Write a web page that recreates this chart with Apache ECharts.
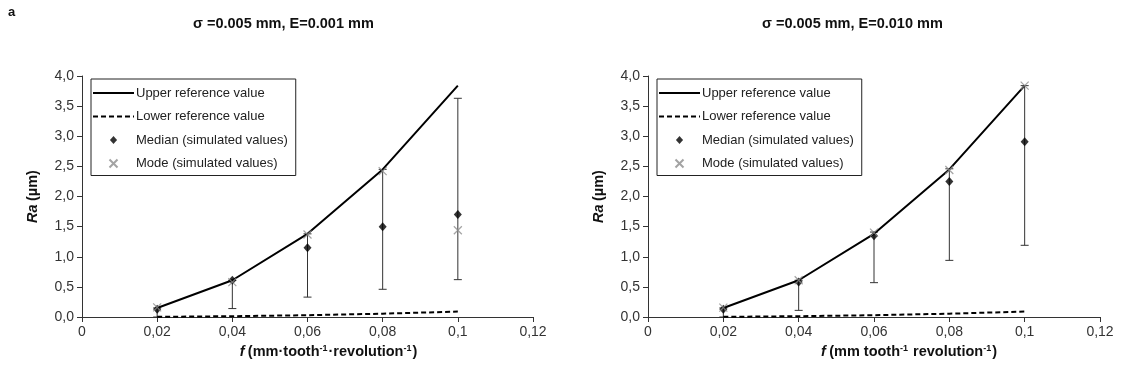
<!DOCTYPE html>
<html><head><meta charset="utf-8">
<script src="https://cdn.jsdelivr.net/npm/echarts@6/dist/echarts.min.js"></script>
<style>html,body{margin:0;padding:0;background:#fff}#c{width:1122px;height:374px}</style>
</head><body><div id="c"></div>
<script>
const feeds = [0.02, 0.04, 0.06, 0.08, 0.1];
const xTicks = [0, 0.02, 0.04, 0.06, 0.08, 0.1, 0.12];
const yTicks = [0, 0.5, 1, 1.5, 2, 2.5, 3, 3.5, 4];
const upperRef = [0.15, 0.61, 1.38, 2.45, 3.84];
const lowerRef = [0.003, 0.013, 0.03, 0.055, 0.09];
// Chart A: sigma=0.005, E=0.001
const medianA = [0.13, 0.61, 1.15, 1.5, 1.7];
const modeA = [0.16, 0.58, 1.37, 2.42, 1.44];
const lowA = [0.0, 0.14, 0.33, 0.46, 0.62];
const highA = [0.15, 0.61, 1.38, 2.45, 3.63];
// Chart B: sigma=0.005, E=0.010
const medianB = [0.13, 0.58, 1.35, 2.25, 2.91];
const modeB = [0.155, 0.61, 1.4, 2.44, 3.84];
const lowB = [0.0, 0.11, 0.57, 0.94, 1.19];
const highB = [0.15, 0.61, 1.41, 2.46, 3.84];

const titles = ['σ =0.005 mm, E=0.001 mm', 'σ =0.005 mm, E=0.010 mm'];
const names = ['Upper reference value', 'Lower reference value', 'Median (simulated values)', 'Mode (simulated values)'];
const xNames = ['{fi|f} {b|(mm·tooth}{s|-1}{b|·revolution}{s|-1}{b|)}', '{fi|f} {b|(mm tooth}{s|-1}{b| revolution}{s|-1}{b|)}'];

const FONT = 'Liberation Sans, Arial, sans-serif';
const xMark = 'path://M0,0L10,10M10,0L0,10';
const diamondIcon = 'path://M4,0L8,4.5L4,9L0,4.5Z';
const solidIcon = 'path://M0,0L41,0L41,2L0,2Z';
const dashedIcon = 'path://M0,0h5v2h-5Z M8,0h5v2h-5Z M16,0h5v2h-5Z M24,0h5v2h-5Z M32,0h5v2h-5Z M40,0h1v2h-1Z';
const pair = (xs, ys) => xs.map((x, i) => [x, ys[i]]);
const fmtY = v => v.toFixed(1).replace('.', ',');
const fmtX = v => (Math.round(v * 100) / 100).toString().replace('.', ',');

const grids = [
  {left: 82, right: 589, top: 76, bottom: 57},
  {left: 648, right: 22, top: 76, bottom: 57}
];
const xPad = [42, 70];
const legendLeft = [91, 657];
const legendIcons = [solidIcon, dashedIcon, diamondIcon, xMark];

const xAxes = [], yAxes = [], series = [], legends = [];
const axisCommon = {
  axisLine: {lineStyle: {color: '#333', width: 1}},
  axisTick: {show: true, length: 5, lineStyle: {color: '#333'}},
  splitLine: {show: false}
};
const sets = [
  {median: medianA, mode: modeA, low: lowA, high: highA},
  {median: medianB, mode: modeB, low: lowB, high: highB}
];
for (let k = 0; k < 2; k++) {
  xAxes.push(Object.assign({}, axisCommon, {
    type: 'value', gridIndex: k, min: xTicks[0], max: xTicks[xTicks.length - 1], interval: 0.02,
    axisLabel: {formatter: fmtX, color: '#333', fontSize: 14, fontFamily: FONT, margin: 8},
    name: xNames[k], nameLocation: 'middle', nameGap: 27,
    nameTextStyle: {padding: [0, 0, 0, xPad[k]], fontFamily: FONT,
      rich: {
        fi: {fontSize: 14.5, fontWeight: 'bold', fontStyle: 'italic', color: '#111', fontFamily: FONT},
        b: {fontSize: 14.5, fontWeight: 'bold', color: '#111', fontFamily: FONT},
        s: {fontSize: 9, fontWeight: 'bold', color: '#111', fontFamily: FONT, verticalAlign: 'top', padding: [0, 1, 0, 0]}
      }}
  }));
  yAxes.push(Object.assign({}, axisCommon, {
    type: 'value', gridIndex: k, min: yTicks[0], max: yTicks[yTicks.length - 1], interval: 0.5,
    axisLabel: {formatter: fmtY, color: '#333', fontSize: 14, fontFamily: FONT, margin: 8},
    name: '{i|Ra} {b|(µm)}', nameLocation: 'middle', nameGap: 42, nameRotate: 90,
    nameTextStyle: {rich: {
      i: {fontSize: 14.5, fontWeight: 'bold', fontStyle: 'italic', color: '#111', fontFamily: FONT},
      b: {fontSize: 14.5, fontWeight: 'bold', color: '#111', fontFamily: FONT}
    }}
  }));
  const s = sets[k];
  series.push({
    name: names[0], type: 'line', xAxisIndex: k, yAxisIndex: k, data: pair(feeds, upperRef),
    symbol: 'none', lineStyle: {color: '#000', width: 2}, itemStyle: {color: '#000'}, z: 3
  });
  series.push({
    name: names[1], type: 'line', xAxisIndex: k, yAxisIndex: k, data: pair(feeds, lowerRef),
    symbol: 'none', lineStyle: {color: '#000', width: 2, type: [5, 3]}, itemStyle: {color: '#000'}, z: 3
  });
  series.push({
    type: 'custom', xAxisIndex: k, yAxisIndex: k, z: 2,
    data: feeds.map((x, i) => [x, s.low[i], s.high[i]]),
    encode: {x: 0, y: [1, 2]},
    renderItem: function (params, api) {
      const p1 = api.coord([api.value(0), api.value(1)]);
      const p2 = api.coord([api.value(0), api.value(2)]);
      const w = 4;
      const st = {stroke: '#333', lineWidth: 1};
      return {type: 'group', children: [
        {type: 'line', shape: {x1: p1[0], y1: p1[1], x2: p2[0], y2: p2[1]}, style: st},
        {type: 'line', shape: {x1: p1[0] - w, y1: p1[1], x2: p1[0] + w, y2: p1[1]}, style: st},
        {type: 'line', shape: {x1: p2[0] - w, y1: p2[1], x2: p2[0] + w, y2: p2[1]}, style: st}
      ]};
    }
  });
  series.push({
    name: names[2], type: 'scatter', xAxisIndex: k, yAxisIndex: k, data: pair(feeds, s.median),
    symbol: 'diamond', symbolSize: [8, 9], itemStyle: {color: '#000'}, z: 4
  });
  series.push({
    name: names[3], type: 'scatter', xAxisIndex: k, yAxisIndex: k, data: pair(feeds, s.mode),
    symbol: xMark, symbolSize: 8, itemStyle: {color: 'none', borderColor: '#8c8c8c', borderWidth: 1.2}, z: 5
  });
  legends.push({
    orient: 'vertical', left: legendLeft[k], top: 79,
    data: names.map((n, i) => ({name: n, icon: legendIcons[i]})),
    itemWidth: 41, itemHeight: 8, itemGap: 9.5, symbolKeepAspect: true,
    padding: [7, 8, 5, 2], borderColor: '#222', borderWidth: 1, backgroundColor: '#fff',
    textStyle: {fontSize: 13, color: '#222', fontFamily: FONT, lineHeight: 14, padding: [0, 0, 0, -3]},
    selectedMode: false
  });
}

const chart = echarts.init(document.getElementById('c'));
chart.setOption({
  animation: false,
  backgroundColor: '#fff',
  title: [
    {text: 'a', left: 8, top: 6, padding: 0, textStyle: {fontSize: 13, fontWeight: 'bold', color: '#111', fontFamily: FONT}},
    {text: titles[0], left: 193, top: 16, padding: 0, textStyle: {fontSize: 14.5, fontWeight: 'bold', color: '#111', fontFamily: FONT}},
    {text: titles[1], left: 762, top: 16, padding: 0, textStyle: {fontSize: 14.5, fontWeight: 'bold', color: '#111', fontFamily: FONT}}
  ],
  legend: legends,
  grid: grids,
  xAxis: xAxes,
  yAxis: yAxes,
  series: series
});
</script></body></html>
